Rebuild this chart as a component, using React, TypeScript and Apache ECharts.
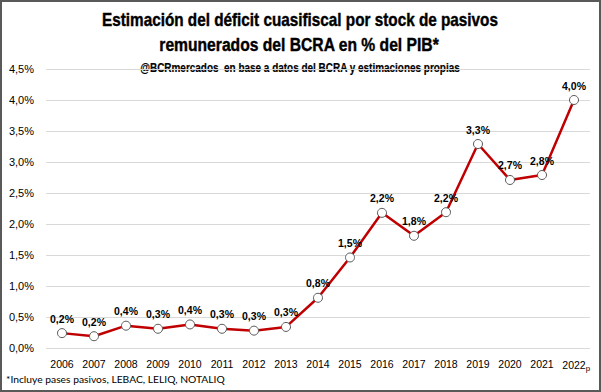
import React, { useEffect, useRef } from "react";
import * as echarts from "echarts";

const years = ["2006","2007","2008","2009","2010","2011","2012","2013","2014","2015","2016","2017","2018","2019","2020","2021","2022"];
const deficit = [0.24, 0.19, 0.36, 0.31, 0.38, 0.31, 0.28, 0.34, 0.81, 1.46, 2.18, 1.81, 2.19, 3.29, 2.71, 2.79, 4.0];
const titleLines = ["Estimación del déficit cuasifiscal por stock de pasivos", "remunerados del BCRA en % del PIB*"];
const subtitle = "@BCRmercados  en base a datos del BCRA y estimaciones propias";
const footnote = "*Incluye pases pasivos, LEBAC, LELIQ, NOTALIQ";

const fmt = (v: number) => v.toFixed(1).replace(".", ",") + "%";

export default function App() {
  const ref = useRef<HTMLDivElement>(null);
  useEffect(() => {
    if (!ref.current) return;
    const chart = echarts.init(ref.current, null, { renderer: "svg" });
    const titleFont = '"Liberation Sans", Arial, sans-serif';
    const bodyFont = '"Liberation Sans", Arial, sans-serif';
    const noteFont = 'Lato, "Liberation Sans", sans-serif';
    chart.setOption({
      animation: false,
      backgroundColor: "#ffffff",
      graphic: [
        {
          type: "text",
          x: 300,
          y: 20,
          scaleX: 0.85,
          style: {
            text: titleLines[0],
            fontFamily: titleFont,
            fontWeight: "bold",
            fontSize: 18,
            fill: "#000",
            stroke: "#000",
            lineWidth: 0.4,
            align: "center",
            verticalAlign: "middle",
          },
        },
        {
          type: "text",
          x: 299,
          y: 45,
          scaleX: 0.87,
          style: {
            text: titleLines[1],
            fontFamily: titleFont,
            fontWeight: "bold",
            fontSize: 18,
            fill: "#000",
            stroke: "#000",
            lineWidth: 0.4,
            align: "center",
            verticalAlign: "middle",
          },
        },
        {
          type: "text",
          x: 300,
          y: 67.5,
          scaleX: 0.83,
          style: {
            text: subtitle,
            fontFamily: titleFont,
            fontWeight: "bold",
            fontSize: 12,
            fill: "#000",
            stroke: "#000",
            lineWidth: 0.2,
            align: "center",
            verticalAlign: "middle",
          },
        },
        {
          type: "text",
          x: 6,
          y: 379,
          style: {
            text: footnote,
            fontFamily: noteFont,
            fontSize: 10.3,
            fill: "#000",
            align: "left",
            verticalAlign: "middle",
          },
        },
        {
          type: "rect",
          z: 100,
          shape: { x: 1, y: 1, width: 599, height: 390 },
          style: { fill: "none", stroke: "#595959", lineWidth: 2 },
          silent: true,
        },
      ],
      grid: { left: 46, right: 11, top: 69, bottom: 44 },
      xAxis: {
        type: "category",
        data: years,
        boundaryGap: true,
        axisLine: { show: false },
        axisTick: { show: false },
        axisLabel: {
          margin: 10,
          fontFamily: bodyFont,
          fontSize: 10.5,
          color: "#000",
          interval: 0,
          formatter: (v: string, i: number) => (i === years.length - 1 ? "{h|p}" + v + "{p|p}" : v),
          rich: {
            h: { fontSize: 8, fontFamily: bodyFont, color: "rgba(0,0,0,0)", padding: [6, 0, 0, 0] },
            p: { fontSize: 8, fontFamily: bodyFont, color: "#000", padding: [6, 0, 0, 0] },
          },
        },
      },
      yAxis: {
        type: "value",
        min: 0,
        max: 4.5,
        interval: 0.5,
        axisLine: { show: false },
        axisTick: { show: false },
        splitLine: { lineStyle: { color: "#D9D9D9", width: 1 } },
        axisLabel: {
          margin: 12,
          fontFamily: bodyFont,
          fontSize: 11,
          color: "#000",
          formatter: (v: number) => fmt(v),
        },
      },
      series: [
        {
          type: "line",
          data: deficit,
          symbol: "circle",
          symbolSize: 9,
          lineStyle: { color: "#C00000", width: 2.5 },
          itemStyle: { color: "#ffffff", borderColor: "#595959", borderWidth: 1 },
          label: {
            show: true,
            position: "top",
            distance: 4,
            fontFamily: bodyFont,
            fontWeight: "bold",
            fontSize: 10.5,
            color: "#000",
            formatter: (p: any) => fmt(p.value),
          },
        },
      ],
    });
    return () => chart.dispose();
  }, []);
  return (
    <div
      ref={ref}
      style={{ position: "fixed", left: 0, top: 0, width: 601, height: 392 }}
    />
  );
}
